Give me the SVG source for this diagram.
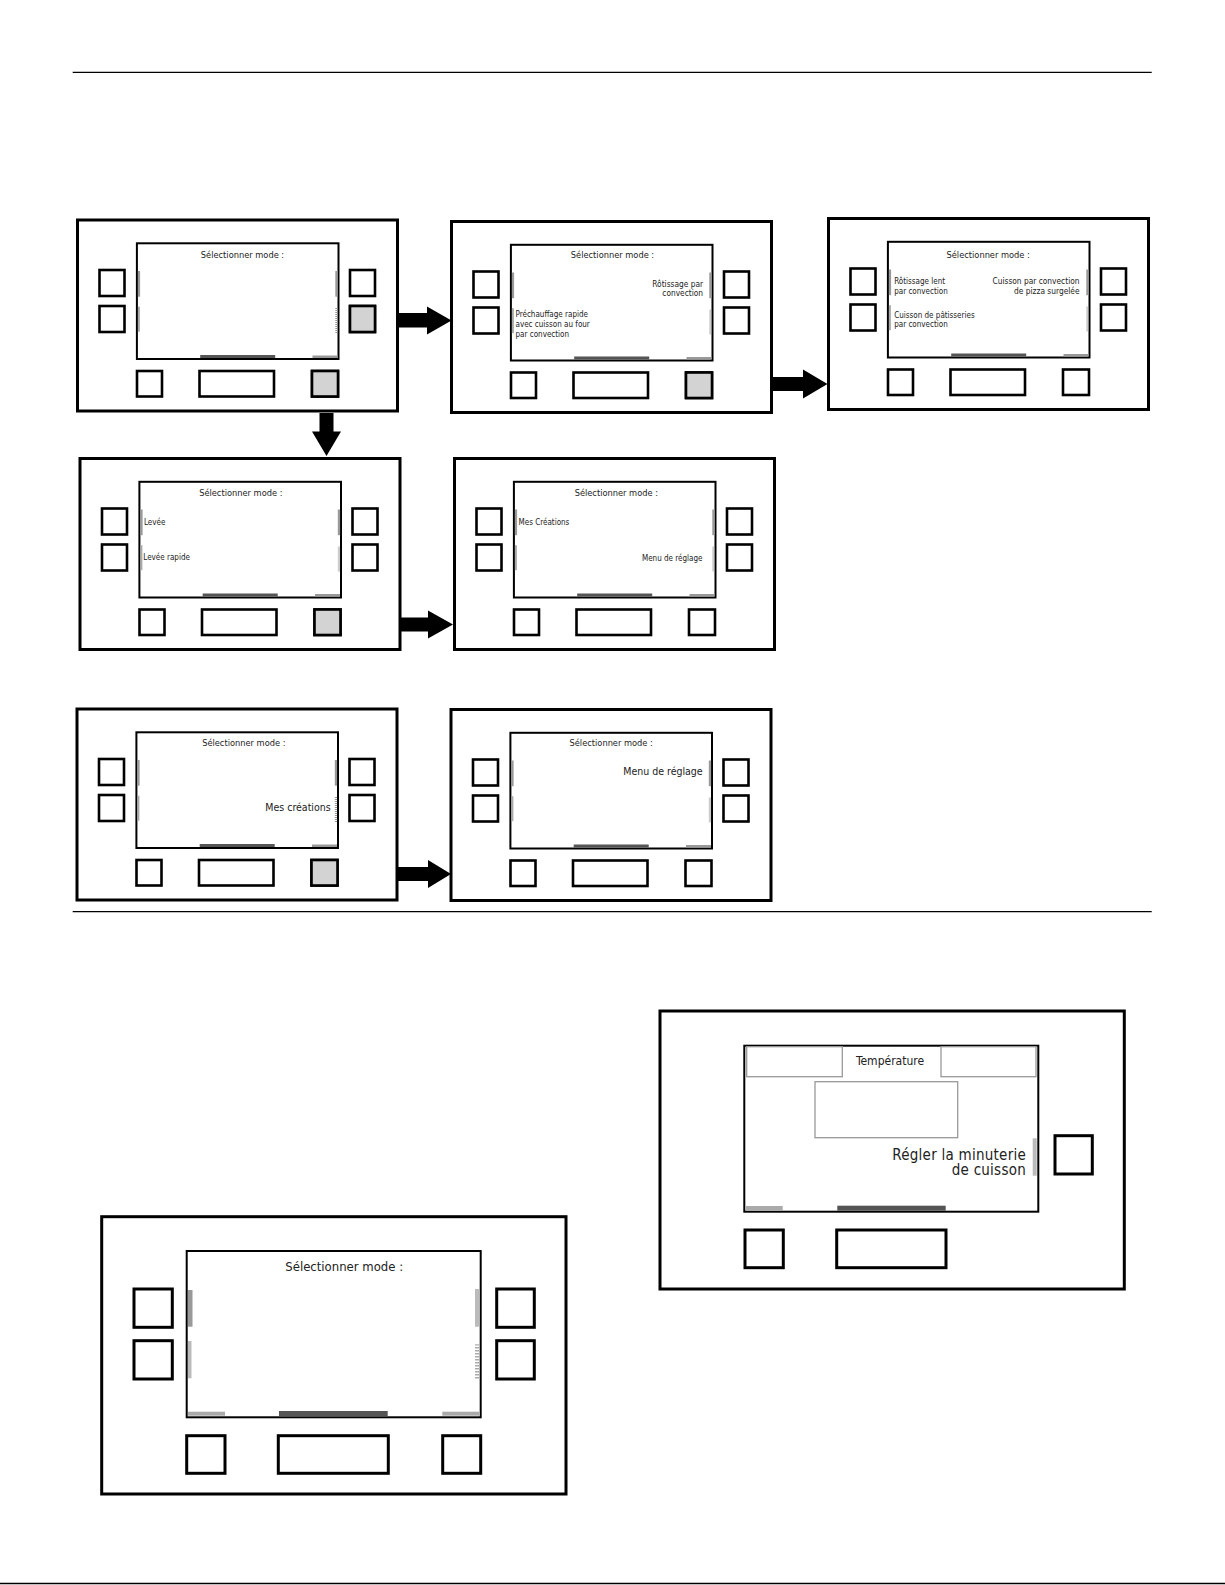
<svg xmlns="http://www.w3.org/2000/svg" xmlns:xlink="http://www.w3.org/1999/xlink" width="1225" height="1585" viewBox="0 0 1225 1585">
<style>
.t{font-family:'DejaVu Sans Condensed','DejaVu Sans',sans-serif;font-stretch:condensed;fill:#222}
.o{fill:#fff;stroke:#000;stroke-width:3}
.s{fill:#fff;stroke:#000;stroke-width:2}
.b{fill:#fff;stroke:#000;stroke-width:2.6}
.bb{fill:#fff;stroke:#000;stroke-width:3}
.g{fill:#d3d3d3;stroke:#000;stroke-width:2.6}
.rule{stroke:#000;stroke-width:1.3}
</style>
<defs>
<pattern id="stripe" width="4" height="2" patternUnits="userSpaceOnUse"><rect width="4" height="1" fill="#999"/></pattern>
<pattern id="stripeB" width="5" height="3" patternUnits="userSpaceOnUse"><rect width="5" height="1.5" fill="#aaa"/></pattern>
<g id="frame">
<rect class="o" x="0" y="0" width="320" height="191"/>
<rect class="s" x="59.4" y="23.3" width="201.6" height="115.7"/>
<rect class="b" x="22" y="50" width="25" height="26"/>
<rect class="b" x="22" y="86" width="25" height="26"/>
<rect class="b" x="272.5" y="50" width="25" height="26"/>
<rect class="b" x="272.5" y="86" width="25" height="26"/>
<rect class="b" x="59.5" y="151" width="25" height="25.5"/>
<rect class="b" x="122" y="151" width="74.5" height="25.5"/>
<rect class="b" x="234.5" y="151" width="26" height="25.5"/>
<rect x="60.4" y="51" width="2.2" height="25.7" fill="#999"/>
<rect x="60.4" y="86.7" width="2" height="25" fill="#aaa"/>
<rect x="257.8" y="51" width="2.3" height="25.7" fill="#999"/>
<rect x="257.8" y="88" width="2.3" height="25" fill="url(#stripe)"/>
<rect x="122.7" y="135" width="75" height="3" fill="#555"/>
<rect x="235" y="135.5" width="25" height="2.5" fill="#999"/>
</g>
</defs>

<g id="rules">
<line class="rule" x1="72.7" y1="72.3" x2="1151.7" y2="72.3"/>
<line class="rule" x1="72.7" y1="911.7" x2="1151.7" y2="911.7"/>
<line class="rule" x1="0" y1="1583.5" x2="1225" y2="1583.5"/>
</g>

<g id="panel1" transform="translate(77.5,220)">
<use xlink:href="#frame"/>
<rect class="g" x="272.5" y="86" width="25" height="26"/>
<rect class="g" x="234.5" y="151" width="26" height="25.5"/>
<text class="t" x="165" y="37.7" font-size="9.2" text-anchor="middle">Sélectionner mode :</text>
</g>

<g id="panel2" transform="translate(451.5,221.5)">
<use xlink:href="#frame"/>
<rect class="g" x="234.5" y="151" width="26" height="25.5"/>
<text class="t" x="161" y="36.2" font-size="9.2" text-anchor="middle">Sélectionner mode :</text>
<text class="t" font-size="8.3" text-anchor="end"><tspan x="251.6" y="65.6">Rôtissage par</tspan><tspan x="251.6" y="74.6">convection</tspan></text>
<text class="t" font-size="8"><tspan x="64" y="95.6">Préchauffage rapide</tspan><tspan x="64" y="105.6">avec cuisson au four</tspan><tspan x="64" y="115.6">par convection</tspan></text>
</g>

<g id="panel3" transform="translate(828.5,218.5)">
<use xlink:href="#frame"/>
<text class="t" x="159.7" y="39.2" font-size="9.2" text-anchor="middle">Sélectionner mode :</text>
<text class="t" font-size="8"><tspan x="65.7" y="65.7">Rôtissage lent</tspan><tspan x="65.7" y="75">par convection</tspan></text>
<text class="t" font-size="8.3" text-anchor="end"><tspan x="251" y="65.7">Cuisson par convection</tspan><tspan x="251" y="75">de pizza surgelée</tspan></text>
<text class="t" font-size="8"><tspan x="65.7" y="99">Cuisson de pâtisseries</tspan><tspan x="65.7" y="108.7">par convection</tspan></text>
</g>

<g id="panel4" transform="translate(80,458.5)">
<use xlink:href="#frame"/>
<rect class="g" x="234.5" y="151" width="26" height="25.5"/>
<text class="t" x="160.8" y="37.2" font-size="9.2" text-anchor="middle">Sélectionner mode :</text>
<text class="t" x="64" y="66.5" font-size="8">Levée</text>
<text class="t" x="63.3" y="101.5" font-size="8">Levée rapide</text>
</g>

<g id="panel5" transform="translate(454.5,458.5)">
<use xlink:href="#frame"/>
<text class="t" x="161.8" y="37.2" font-size="9.2" text-anchor="middle">Sélectionner mode :</text>
<text class="t" x="64" y="66.5" font-size="8">Mes Créations</text>
<text class="t" x="248" y="102.2" font-size="8" text-anchor="end">Menu de réglage</text>
</g>

<g id="panel6" transform="translate(77,709)">
<use xlink:href="#frame"/>
<rect class="g" x="234.5" y="151" width="26" height="25.5"/>
<text class="t" x="166.8" y="36.7" font-size="9.2" text-anchor="middle">Sélectionner mode :</text>
<text class="t" x="253.7" y="102.3" font-size="10.5" text-anchor="end">Mes créations</text>
</g>

<g id="panel7" transform="translate(451,709.5)">
<use xlink:href="#frame"/>
<text class="t" x="160.2" y="36.2" font-size="9.2" text-anchor="middle">Sélectionner mode :</text>
<text class="t" x="251.7" y="65.5" font-size="10.5" text-anchor="end">Menu de réglage</text>
</g>

<g id="panel8">
<rect class="o" x="101.7" y="1216.7" width="464.3" height="277.3"/>
<rect class="s" x="186.7" y="1251" width="294" height="166.3"/>
<rect class="bb" x="134" y="1289" width="38.3" height="38.3"/>
<rect class="bb" x="134" y="1340.7" width="38.3" height="38.3"/>
<rect class="bb" x="496.7" y="1289" width="37.6" height="38.3"/>
<rect class="bb" x="496.7" y="1340.7" width="37.6" height="38.3"/>
<rect class="bb" x="186.7" y="1435.7" width="38.3" height="37.6"/>
<rect class="bb" x="278.3" y="1435.7" width="110" height="37.6"/>
<rect class="bb" x="442.7" y="1435.7" width="38" height="37.6"/>
<rect x="188" y="1290" width="4.5" height="36.7" fill="#999"/>
<rect x="188" y="1341" width="3.5" height="37.3" fill="#bbb"/>
<rect x="475" y="1289" width="4" height="37.7" fill="#bbb"/>
<rect x="475" y="1344.3" width="4" height="35" fill="url(#stripeB)"/>
<rect x="188" y="1411.7" width="37" height="4" fill="#aaa"/>
<rect x="279" y="1411" width="108.7" height="5" fill="#555"/>
<rect x="442.3" y="1411.7" width="36.7" height="4" fill="#aaa"/>
<text class="t" x="344.2" y="1271" font-size="13" text-anchor="middle">Sélectionner mode :</text>
</g>

<g id="panel9">
<rect class="o" x="660" y="1011" width="464.3" height="278"/>
<rect class="s" x="744.3" y="1045.7" width="294" height="166"/>
<rect x="746.7" y="1046.7" width="95.6" height="30" fill="none" stroke="#999" stroke-width="1.3"/>
<rect x="941" y="1046.7" width="95" height="30" fill="none" stroke="#999" stroke-width="1.3"/>
<text class="t" x="890" y="1065" font-size="12" text-anchor="middle">Température</text>
<rect x="815" y="1081.7" width="142.7" height="56" fill="none" stroke="#999" stroke-width="1.3"/>
<text class="t" font-size="15" letter-spacing="0.25" text-anchor="end"><tspan x="1026" y="1160">Régler la minuterie</tspan><tspan x="1026" y="1175">de cuisson</tspan></text>
<rect x="1032.7" y="1138.3" width="4" height="37.4" fill="#bbb"/>
<rect class="bb" x="1055" y="1135.7" width="37.3" height="38.3"/>
<rect class="bb" x="745" y="1230" width="38.3" height="37.7"/>
<rect class="bb" x="836.7" y="1230" width="109.3" height="37.7"/>
<rect x="746" y="1206" width="36.7" height="4.7" fill="#aaa"/>
<rect x="837.3" y="1205.7" width="108.4" height="5" fill="#555"/>
</g>

<g id="connectors" fill="#000">
<polygon points="398,313 427,313 427,306.5 451.5,320.5 427,334.5 427,327.5 398,327.5"/>
<polygon points="773,377 803,377 803,369.5 827.5,384 803,398.5 803,391 773,391"/>
<polygon points="319.5,413 333.5,413 333.5,431.5 341,431.5 326.5,456 312,431.5 319.5,431.5"/>
<polygon points="399.5,617.5 428,617.5 428,610.5 453,624.5 428,638.5 428,631.5 399.5,631.5"/>
<polygon points="396,867 428,867 428,860 451,874 428,888 428,881 396,881"/>
</g>
</svg>
